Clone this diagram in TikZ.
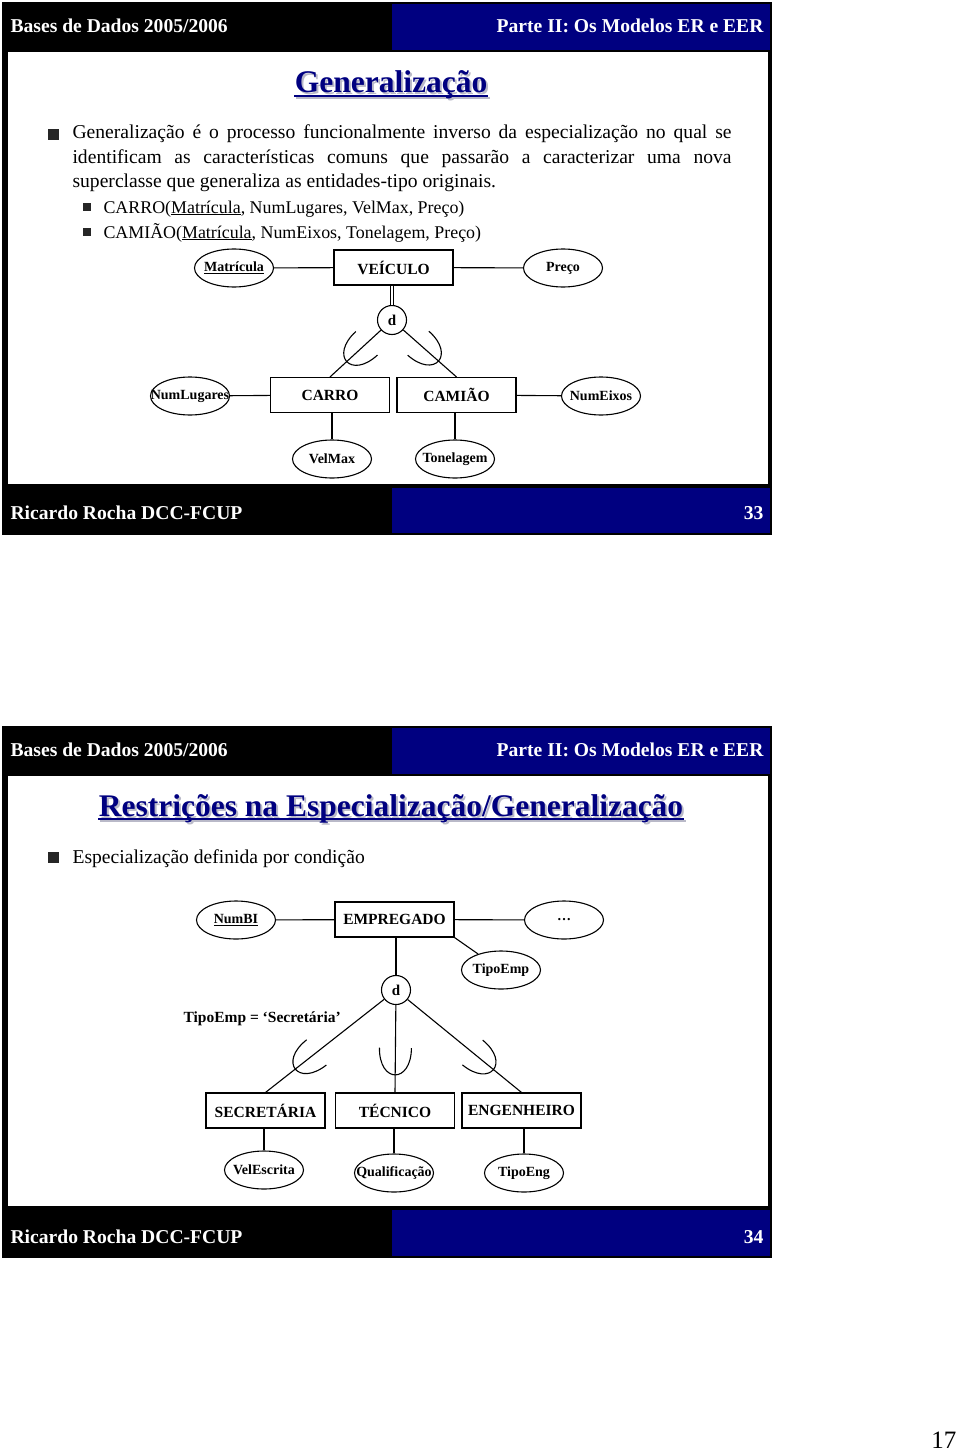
\documentclass[tikz,border=0pt]{standalone}
\usepackage{fontspec}
\setmainfont{Liberation Serif}
\usetikzlibrary{shapes.geometric,decorations.markings,calc}
\definecolor{navy}{RGB}{0,0,128}
\definecolor{shadowgray}{RGB}{185,185,200}
\newcommand\mkattr[1]{\makebox[0pt]{#1}}
\begin{document}
\begin{tikzpicture}[x=1pt, y=-1pt, line width=1.1pt,
  entity/.style={draw, rectangle, minimum width=119pt, minimum height=35pt, inner sep=0pt, font=\bfseries\fontsize{15.5}{16}\selectfont},
  attr/.style={draw, ellipse, minimum width=79pt, minimum height=38pt, inner sep=0pt, font=\bfseries\fontsize{14}{15}\selectfont},
  disj/.style={draw, circle, minimum size=29pt, inner sep=0pt, font=\bfseries\fontsize{15}{15}\selectfont},
  subset/.style={postaction={decorate}, decoration={markings, mark=at position #1 with {\draw[line width=1.1pt] (0pt,16pt) .. controls (-36pt,16pt) and (-36pt,-16pt) .. (0pt,-16pt);}}},
  hdr/.style={text=white, inner sep=0pt, font=\bfseries\fontsize{19.6}{24}\selectfont},
  ttl/.style={inner sep=0pt, font=\bfseries\fontsize{31.5}{34}\selectfont},
  body/.style={inner sep=0pt, anchor=base west, font=\fontsize{19.6}{24}\selectfont},
  sub/.style={inner sep=0pt, anchor=base west, font=\fontsize{17.9}{22}\selectfont},
  bul/.style={fill=black!85}
]
\useasboundingbox (0,0) rectangle (960,1453);
\fill[white] (0,0) rectangle (960,1453);

% ---------------- Slide 33 ----------------
\fill[black] (2,2) rectangle (772,535);
\fill[navy] (392,4) rectangle (770,50);
\fill[white] (8,52) rectangle (768,484);
\fill[navy] (392,488) rectangle (770,533);
\node[hdr, anchor=base west] (h1l) at (10,33) {Bases de Dados 2005/2006};
\node[hdr, anchor=base east] (h1r) at (764,33) {Parte II: Os Modelos ER e EER};
\node[hdr, anchor=base west] (f1l) at (10,519) {Ricardo Rocha DCC-FCUP};
\node[hdr, anchor=base east] (f1r) at (764,519) {33};

\node[ttl, anchor=base, text=shadowgray] (t1s) at (393,95) {Generalização};
\draw[shadowgray, line width=2pt] ($(t1s.base west)+(0,3)$) -- ($(t1s.base east)+(0,3)$);
\node[ttl, anchor=base, text=navy] (t1) at (391,93) {Generalização};
\draw[navy, line width=2pt] ($(t1.base west)+(0,3)$) -- ($(t1.base east)+(0,3)$);

\fill[bul] (48,129) rectangle (59,140);
\node[body] (p1a) at (72,139) {\makebox[659pt][s]{Generalização é o processo funcionalmente inverso da especialização no qual se}};
\node[body] (p1b) at (72,163) {\makebox[659pt][s]{identificam as características comuns que passarão a caracterizar uma nova}};
\node[body] (p1c) at (72,187) {superclasse que generaliza as entidades-tipo originais.};
\fill[bul] (83,203) rectangle (91,211);
\node[sub] (s1) at (103,213) {CARRO(\underline{Matrícula}, NumLugares, VelMax, Preço)};
\fill[bul] (83,228) rectangle (91,236);
\node[sub] (s2) at (103,238) {CAMIÃO(\underline{Matrícula}, NumEixos, Tonelagem, Preço)};

\node[attr] (matricula) at (234,268) {\mkattr{\underline{Matrícula}}};
\node[entity] (veiculo) at (393.5,267.5) {VEÍCULO};
\node[attr] (preco) at (563,268) {\mkattr{Preço}};
\node[disj] (d1) at (392,320) {d};
\node[entity] (carro) at (330,395) {CARRO};
\node[entity] (camiao) at (456.5,395) {CAMIÃO};
\node[attr] (numlugares) at (190,396) {\mkattr{NumLugares}};
\node[attr] (numeixos) at (601,396) {\mkattr{NumEixos}};
\node[attr] (velmax) at (332,459) {\mkattr{VelMax}};
\node[attr] (tonelagem) at (455,459) {\mkattr{Tonelagem}};

\draw (matricula) -- (veiculo);
\draw (veiculo) -- (preco);
\draw[double, line width=0.9pt, double distance=1.8pt] (d1 |- veiculo.south) -- (d1);
\draw[subset=0.72] (carro.north) -- (d1);
\draw[subset=0.72] (camiao.north) -- (d1);
\draw (numlugares) -- (carro);
\draw (camiao) -- (numeixos);
\draw (velmax |- carro.south) -- (velmax);
\draw (tonelagem |- camiao.south) -- (tonelagem);

% ---------------- Slide 34 ----------------
\fill[black] (2,726) rectangle (772,1258);
\fill[navy] (392,728) rectangle (770,774);
\fill[white] (8,776) rectangle (768,1206);
\fill[navy] (392,1210) rectangle (770,1256);
\node[hdr, anchor=base west] (h2l) at (10,756) {Bases de Dados 2005/2006};
\node[hdr, anchor=base east] (h2r) at (764,756) {Parte II: Os Modelos ER e EER};
\node[hdr, anchor=base west] (f2l) at (10,1243) {Ricardo Rocha DCC-FCUP};
\node[hdr, anchor=base east] (f2r) at (764,1243) {34};

\node[ttl, anchor=base, text=shadowgray] (t2s) at (393,818) {Restrições na Especialização/Generalização};
\draw[shadowgray, line width=2pt] ($(t2s.base west)+(0,3)$) -- ($(t2s.base east)+(0,3)$);
\node[ttl, anchor=base, text=navy] (t2) at (391,816) {Restrições na Especialização/Generalização};
\draw[navy, line width=2pt] ($(t2.base west)+(0,3)$) -- ($(t2.base east)+(0,3)$);

\fill[bul] (48,852) rectangle (59,863);
\node[body] (p2) at (72,863) {Especialização definida por condição};

\node[attr] (numbi) at (236,920) {\mkattr{\underline{NumBI}}};
\node[entity] (empregado) at (394.5,919.5) {EMPREGADO};
\node[attr] (dots) at (564,920) {\mkattr{…}};
\node[attr] (tipoemp) at (501,970) {\mkattr{TipoEmp}};
\node[disj] (d2) at (396,990) {d};
\node[inner sep=0pt, anchor=base west, font=\bfseries\fontsize{15.5}{16}\selectfont] (cond) at (183,1022) {TipoEmp = ‘Secretária’};
\node[entity] (secretaria) at (265.5,1110.5) {SECRETÁRIA};
\node[entity] (tecnico) at (395,1110.5) {TÉCNICO};
\node[entity] (engenheiro) at (521.5,1110.5) {ENGENHEIRO};
\node[attr] (velescrita) at (264,1170) {\mkattr{VelEscrita}};
\node[attr] (qualificacao) at (394,1173) {\mkattr{Qualificação}};
\node[attr] (tipoeng) at (524,1173) {\mkattr{TipoEng}};

\draw (numbi) -- (empregado);
\draw (empregado) -- (dots);
\draw (empregado.south east) -- (tipoemp);
\draw (d2 |- empregado.south) -- (d2);
\draw[subset=0.43] (secretaria.north) -- (d2);
\draw[subset=0.51] (tecnico.north) -- (d2);
\draw[subset=0.43] (engenheiro.north) -- (d2);
\draw (velescrita |- secretaria.south) -- (velescrita);
\draw (qualificacao |- tecnico.south) -- (qualificacao);
\draw (tipoeng |- engenheiro.south) -- (tipoeng);

\node[inner sep=0pt, anchor=base east, font=\fontsize{25}{28}\selectfont] (pg) at (957,1448) {17};
\end{tikzpicture}
\end{document}
